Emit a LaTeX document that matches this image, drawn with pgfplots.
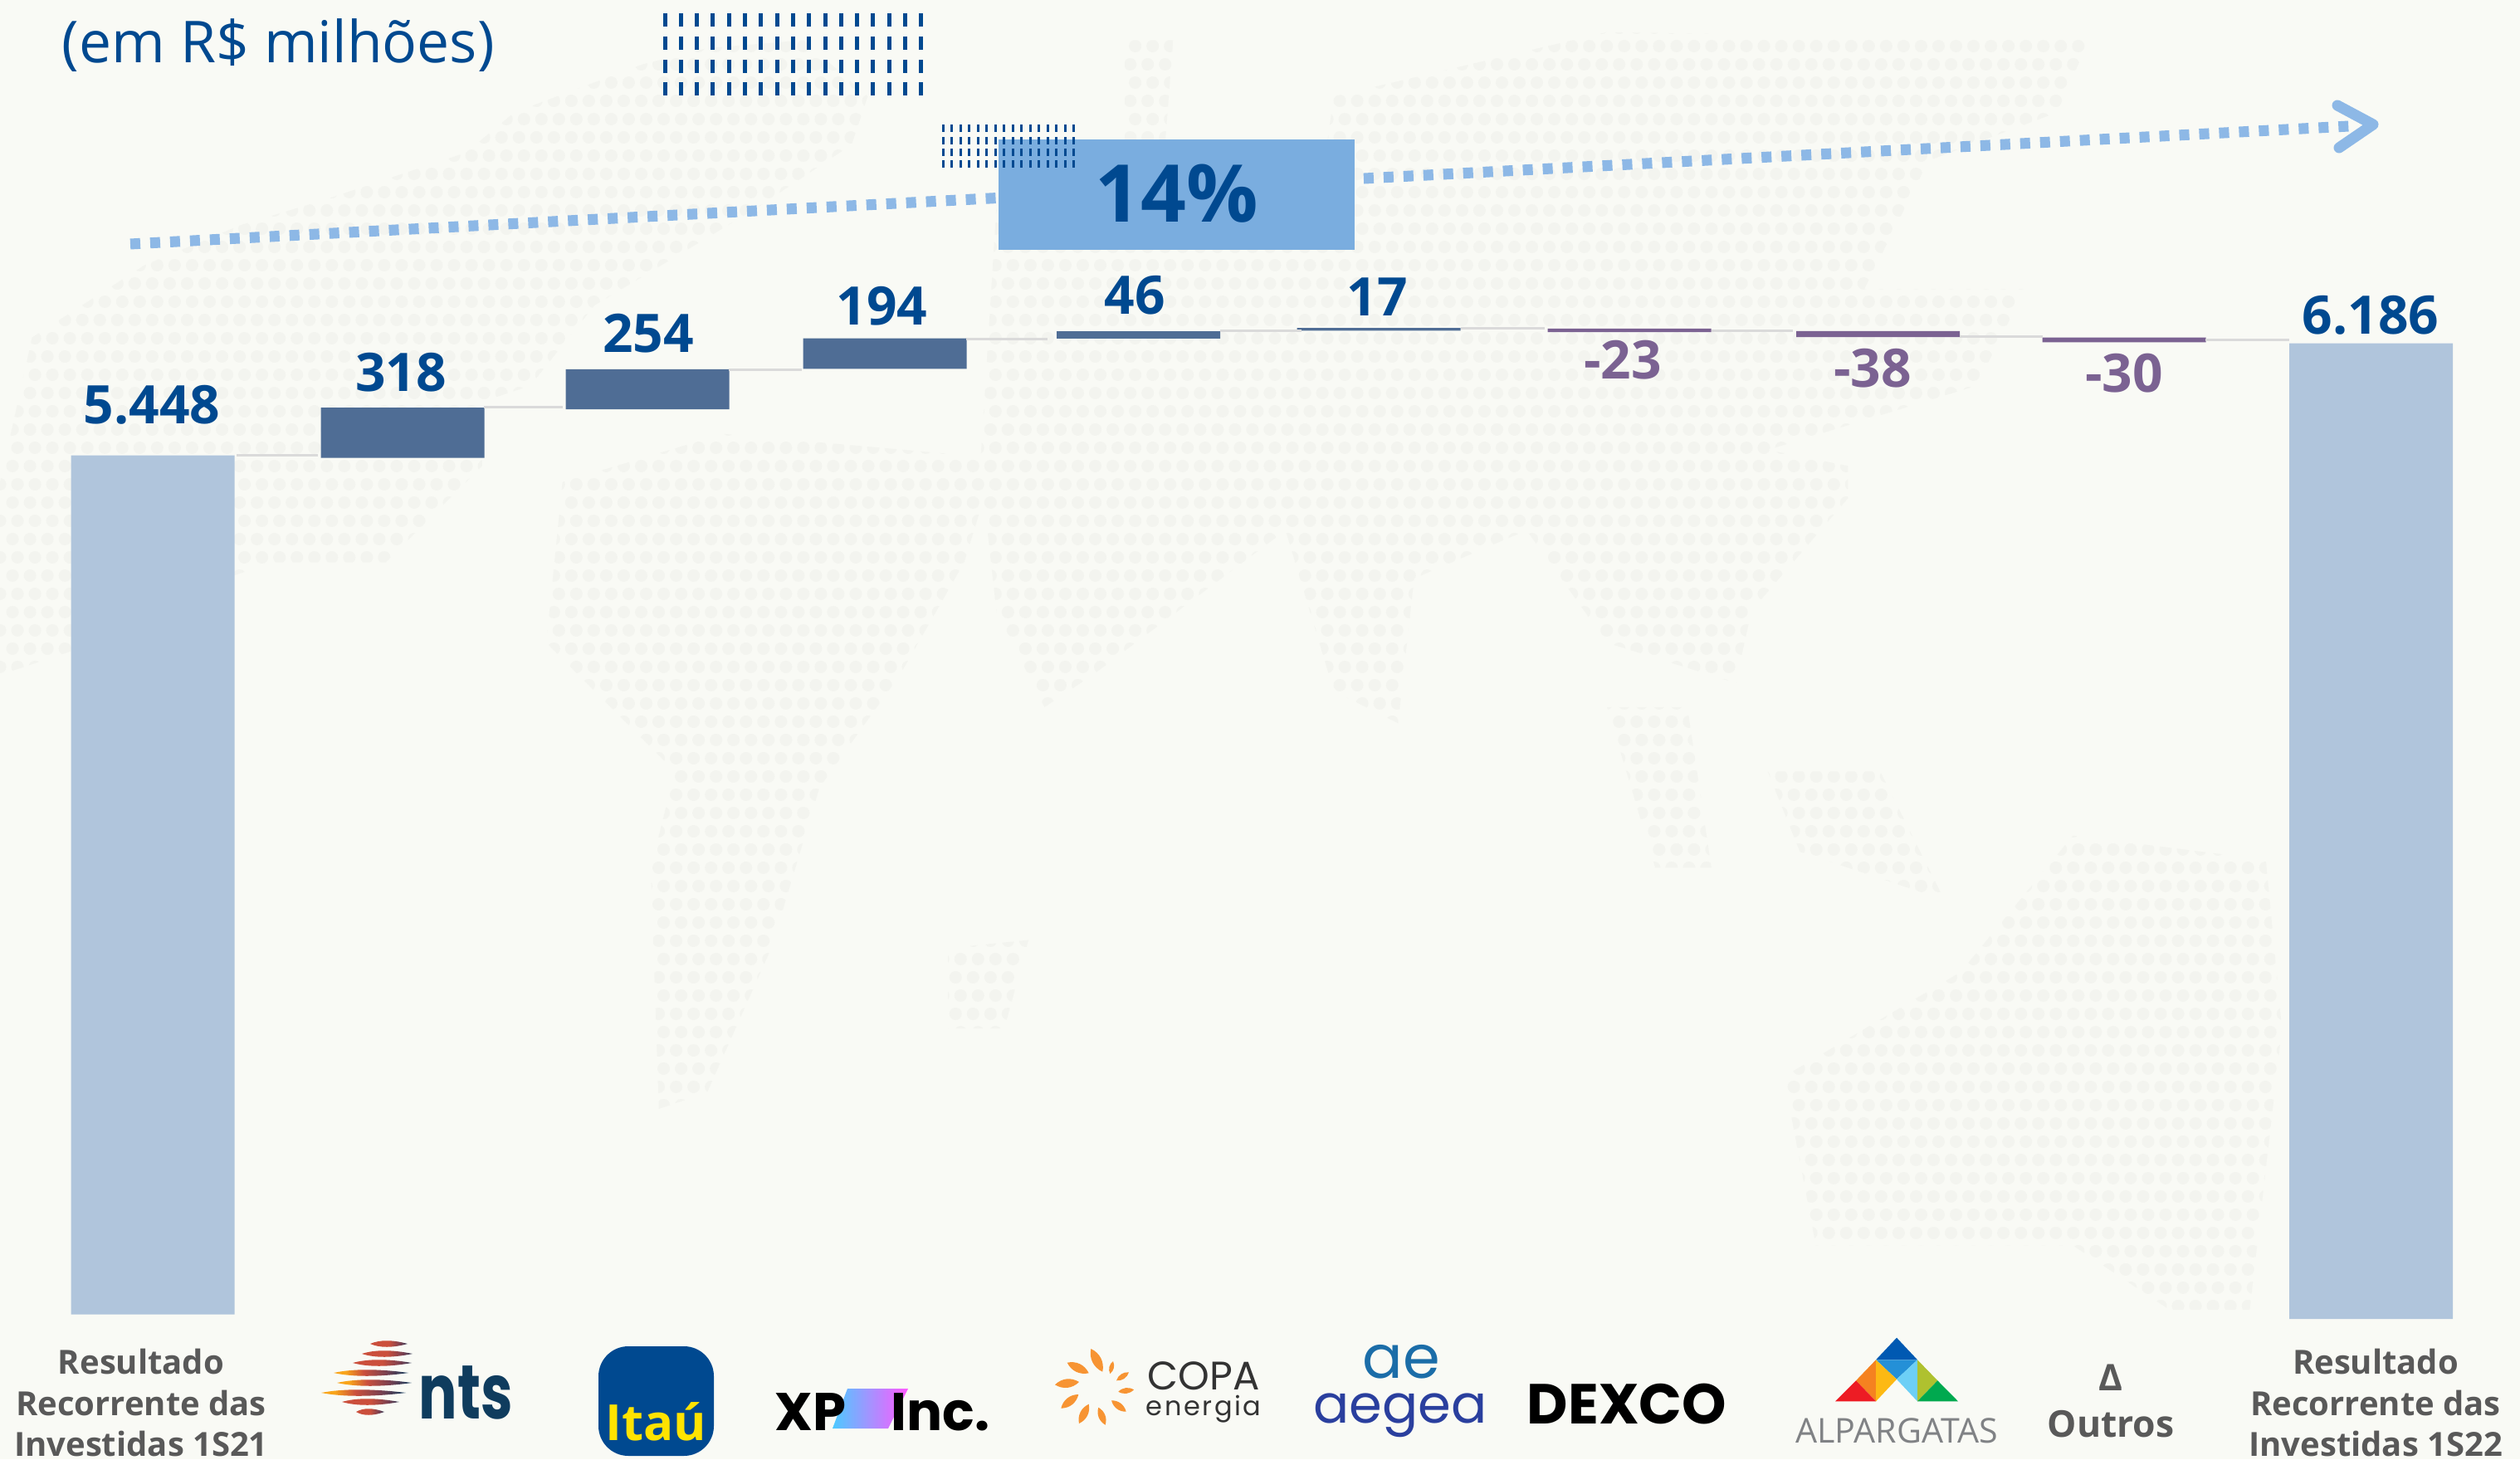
\documentclass[border=0pt]{standalone}
\usepackage{fontspec}
\usepackage{pgfplots}
\usepackage{pgfplotstable}
\pgfplotsset{compat=1.18}
\setmainfont{Open Sans}
\newfontfamily\os{Open Sans}
\newfontfamily\pop{Poppins}
\newfontfamily\popsp[LetterSpace=8]{Poppins}
\definecolor{bg}{HTML}{F9FAF5}
\definecolor{dot}{HTML}{F3F4EF}
\definecolor{total}{HTML}{B0C5DC}
\definecolor{up}{HTML}{4F6D95}
\definecolor{down}{HTML}{7B6292}
\definecolor{navy}{HTML}{004990}
\definecolor{sky}{HTML}{7AADDF}
\definecolor{arrowc}{HTML}{8DB8E6}
\definecolor{conn}{HTML}{DADADA}
\definecolor{greytxt}{HTML}{595959}
\definecolor{ntsblue}{HTML}{0F3C5E}
\definecolor{petal}{HTML}{F79433}
\definecolor{aeg}{HTML}{2A3F9E}
\definecolor{fishred}{HTML}{CB4F3C}
\definecolor{fishmid}{HTML}{7A4050}
\definecolor{fishor}{HTML}{F9A51A}
\pgfdeclarehorizontalshading{fishA}{100bp}{color(0bp)=(fishred);color(50bp)=(fishred);color(65bp)=(fishmid);color(80bp)=(ntsblue);color(100bp)=(ntsblue)}
\pgfdeclarehorizontalshading{fishB}{100bp}{color(0bp)=(fishor);color(33bp)=(fishor);color(45bp)=(fishred);color(60bp)=(fishmid);color(75bp)=(ntsblue);color(100bp)=(ntsblue)}
\pgfdeclarehorizontalshading{xpgrad}{100bp}{color(0bp)=(cyan!70!blue!70!white);color(25bp)=(cyan!70!blue!70!white);color(75bp)=(magenta!65!white);color(100bp)=(magenta!65!white)}
% one line of a tick label: #1 = distance of the baseline below the axis
\newcommand\tl[2]{\makebox[0pt][c]{\raisebox{-#1}[0pt][0pt]{#2}}}
\newcommand\lblfont{\os\bfseries\fontsize{10}{12}\selectfont\color{greytxt}}
\newcommand\fish[5]{\shade[shading=#5,draw=none] (#1,#3) .. controls ({#1+0.25*(#2-#1)},{#3-#4}) and ({#1+0.6*(#2-#1)},{#3-#4}) .. (#2,#3) .. controls ({#1+0.6*(#2-#1)},{#3+#4}) and ({#1+0.25*(#2-#1)},{#3+#4}) .. cycle;}
\newcommand\petal[4]{\fill[petal] (#1,#2) to[bend left=38] (#3,#4) to[bend left=38] cycle;}
\pgfplotstableread{
x      base  total up  down
184    28    5448  0   0
485    5460  0     318 0
780    5768  0     254 0
1066   6024  0     194 0
1371.5 6216  0     46  0
1661   6266  0     17  0
1963   6257  0     0   23
2262.5 6226  0     0   38
2559   6193  0     0   30
2856.5 0     6186  0   0
}\bars
\pgfplotstableread{
x      y    label
183    5795 5.448
483    6003 318
781    6247 254
1062.5 6420 194
1367   6489 46
1659   6479 17
2856   6363 6.186
}\uplabels
\pgfplotstableread{
x      y    label
1955   6079 -23
2256   6026 -38
2559   5995 -30
}\downlabels
\pgfplotsset{px axis/.style={
  at={(0pt,42.25pt)},anchor=south west,
  scale only axis,width=759pt,height=397.25pt,
  xmin=0,xmax=3036,ymin=0,ymax=8363.16,
  clip=false}}
\tikzset{px/.style={x=.25pt,y=-.25pt,yshift=439.5pt}}
\begin{document}
\begin{tikzpicture}
\useasboundingbox (0,0) rectangle (759pt,439.5pt);
\clip (0,0) rectangle (759pt,439.5pt);
\fill[bg] (0,0) rectangle (759pt,439.5pt);
% faint dotted world map
\begin{scope}[x=.484pt,y=-.484pt,yshift=439.5pt]
\clip
 (0,300)--(20,210)--(90,165)--(150,140)--(200,125)--(290,95)--(320,70)--(400,40)--(440,30)--(500,25)--(540,60)--(530,90)--(470,130)--(420,160)--(370,190)--(330,240)--(300,250)--(300,290)--(240,350)--(170,350)--(110,370)--(60,400)--(0,420)--cycle
 (350,300)--(450,270)--(620,285)--(600,350)--(560,420)--(510,490)--(480,590)--(440,680)--(410,690)--(405,540)--(420,480)--(340,400)--cycle
 (610,290)--(620,130)--(820,130)--(830,60)--(1000,20)--(1300,25)--(1280,70)--(1200,100)--(1160,180)--(1260,180)--(1230,240)--(1100,280)--(1150,290)--(1150,310)--(1090,380)--(1080,425)--(1000,400)--(950,330)--(880,360)--(870,450)--(830,430)--(800,330)--(680,420)--(650,440)--(620,380)--cycle
 (1000,440)--(1050,440)--(1065,540)--(1030,540)--cycle
 (1100,480)--(1170,480)--(1210,560)--(1120,530)--cycle
 (590,590)--(640,585)--(625,640)--(590,640)--cycle
 (1110,670)--(1220,605)--(1290,520)--(1410,535)--(1420,640)--(1400,815)--(1350,815)--(1290,775)--(1130,775)--cycle
 (700,25)--(730,25)--(725,90)--(700,90)--cycle;
\foreach \r in {0,...,80}{
  \draw[dot,line width=3.75pt,line cap=round,dash pattern=on 0.01pt off 5.25pt,dash phase={mod(\r,2)*1.5pt}]
   (0,{11.36*\r+6}) -- (1568,{11.36*\r+6});
}
\end{scope}
\begin{scope}[px]
% trend arrow
\draw[arrowc,line width=3.25pt,dash pattern=on 3pt off 3pt] (157,294)--(2830,152);
\draw[arrowc,line width=3.25pt,line cap=round,line join=round] (2816,127)--(2859,150)--(2818,178);
% 14% box
\fill[sky] (1203,168) rectangle (1632,301);
\node[text=navy,font=\os\bfseries\fontsize{24}{26}\selectfont] at (1418,233) {14\%};
% upper stick block
\foreach \yy in {16,44,72,99.5}{
  \foreach \i in {0,...,16}{ \fill[navy] ({801+19.3*\i-2.5},\yy) rectangle ({801+19.3*\i+2.5},{\yy+16}); }
}
% lower stick block
\foreach \yy in {150,165,179,193}{
  \foreach \i in {0,...,15}{ \fill[navy] ({1136+10.5*\i-1.5},\yy) rectangle ({1136+10.5*\i+1.5},{\yy+9}); }
}
\node[anchor=base west,inner sep=0pt,text=navy,font=\os\fontsize{17.4}{20}\selectfont] at (74,76) {(em R\$ milhões)};
% nts symbol
\fish{446}{491}{1619}{5}{fishA}
\fish{436}{497}{1631}{5}{fishA}
\fish{425}{496}{1642}{5}{fishA}
\fish{402}{492}{1654}{5}{fishB}
\fish{406}{496}{1666}{5}{fishB}
\fish{387}{489}{1678}{5}{fishB}
\fish{412}{481}{1689}{5}{fishA}
\fish{429}{463}{1701}{5}{fishA}
% Itau box
\fill[navy,rounded corners=9pt] (721,1622) rectangle (860,1754);
% XP gradient
\shade[shading=xpgrad] (1021,1673)--(1094,1673)--(1070,1721)--(1003,1721)--cycle;
% Copa sun
\petal{1314.3}{1625}{1328.3}{1652.7}
\petal{1285.7}{1641.7}{1311.7}{1654.3}
\petal{1271}{1668.3}{1300}{1665}
\petal{1278.3}{1696.7}{1299.3}{1680}
\petal{1300}{1715}{1311.7}{1691.7}
\petal{1331.7}{1716.7}{1323.3}{1695.7}
\petal{1356.7}{1700.7}{1339}{1687.3}
\petal{1366}{1674.3}{1347.3}{1676.7}
\petal{1360}{1653.3}{1345}{1663.3}
\petal{1341}{1640}{1337.3}{1655}
% aegea symbol
\node[anchor=base,inner sep=0pt,text=aeg!70!cyan!90!black,font=\pop\fontsize{18}{19}\selectfont] at (1688,1660) {ae};
% Alpargatas symbol
\fill[blue!50!cyan!70!black] (2285,1611.7)--(2260,1638.3)--(2310,1638.3)--cycle;
\fill[cyan!70!blue!90!white] (2260,1638.3)--(2310,1638.3)--(2285,1661.7)--cycle;
\definecolor{a1}{HTML}{F58220}\definecolor{a2}{HTML}{FDB913}\definecolor{a3}{HTML}{ED1C24}
\definecolor{a4}{HTML}{6DCFF6}\definecolor{a5}{HTML}{AFC12F}\definecolor{a6}{HTML}{00A94F}
\fill[a1] (2260,1638.3)--(2236,1663.3)--(2260,1688.3)--cycle;
\fill[a2] (2260,1638.3)--(2285,1661.7)--(2260,1688.3)--cycle;
\fill[a3] (2236,1663.3)--(2211,1688.3)--(2260,1688.3)--cycle;
\fill[a4] (2310,1638.3)--(2285,1661.7)--(2310,1688.3)--cycle;
\fill[a5] (2310,1638.3)--(2334.3,1663.3)--(2310,1688.3)--cycle;
\fill[a6] (2334.3,1663.3)--(2310,1688.3)--(2359,1688.3)--cycle;
\end{scope}
% bars
\begin{axis}[px axis,ybar stacked,bar width=49.25pt,
  axis line style={draw=none},major tick length=0pt,ytick=\empty,
  xtick={170,561,790,1063,1450,1687,1960,2285,2543,2862},
  xticklabel style={anchor=north,inner sep=0pt,outer sep=0pt,yshift=0pt},
  xticklabels={
   {\lblfont\tl{16pt}{Resultado}\tl{28.5pt}{Recorrente das}\tl{40.8pt}{Investidas 1S21}},
   {\tl{29.5pt}{\pop\bfseries\fontsize{23}{24}\selectfont\color{ntsblue}\scalebox{.75}[1]{nts}}},
   {\tl{36pt}{\os\bfseries\fontsize{15}{16}\selectfont\color[HTML]{FFE300}Itaú}},
   {\tl{33pt}{\pop\bfseries\fontsize{16}{18}\selectfont\color{black}XP\hspace{13.5pt}Inc.}},
   {\tl{20.75pt}{\pop\fontsize{12}{13}\selectfont\color[HTML]{333333}COPA}\tl{28.5pt}{\popsp\fontsize{8}{9}\selectfont\color[HTML]{333333}energia}},
   {\tl{30.75pt}{\pop\fontsize{16}{17}\selectfont\color{aeg}aegea}},
   {\tl{31pt}{\pop\bfseries\fontsize{17}{18}\selectfont\color{black}DEXCO}},
   {\tl{36.75pt}{\os\fontsize{10.3}{11}\selectfont\color[HTML]{808285}ALPARGATAS}},
   {\lblfont\tl{21pt}{\fontsize{11}{12}\selectfont Δ}\tl{35pt}{\fontsize{11.1}{12}\selectfont Outros}},
   {\lblfont\tl{16pt}{Resultado}\tl{28.5pt}{Recorrente das}\tl{40.8pt}{Investidas 1S22}}
  }]
\addplot[draw=none,fill=none] table[x=x,y=base] {\bars};
\addplot[draw=none,fill=total] table[x=x,y=total] {\bars};
\addplot[draw=none,fill=up] table[x=x,y=up] {\bars};
\addplot[draw=none,fill=down] table[x=x,y=down] {\bars};
\end{axis}
% connectors and value labels
\begin{axis}[px axis,hide axis]
\addplot[conn,line width=.75pt] coordinates {(285,5474) (383,5474)};
\addplot[conn,line width=.75pt] coordinates {(583,5781) (678,5781)};
\addplot[conn,line width=.75pt] coordinates {(878,6016) (966,6016)};
\addplot[conn,line width=.75pt] coordinates {(1164,6212) (1262,6212)};
\addplot[conn,line width=.75pt] coordinates {(1470,6267) (1568,6267)};
\addplot[conn,line width=.75pt] coordinates {(1760,6281) (1861,6281)};
\addplot[conn,line width=.75pt] coordinates {(2062,6267) (2160,6267)};
\addplot[conn,line width=.75pt] coordinates {(2361,6228) (2461,6228)};
\addplot[conn,line width=.75pt] coordinates {(2657,6207) (2758,6207)};
\addplot[only marks,mark=none,point meta=explicit symbolic,
  nodes near coords,nodes near coords align={center},
  nodes near coords style={anchor=center,inner sep=0pt,text=navy,font=\os\bfseries\fontsize{16}{18}\selectfont}]
  table[x=x,y=y,meta=label] {\uplabels};
\addplot[only marks,mark=none,point meta=explicit symbolic,
  nodes near coords,nodes near coords align={center},
  nodes near coords style={anchor=center,inner sep=0pt,text=down,font=\os\bfseries\fontsize{16}{18}\selectfont}]
  table[x=x,y=y,meta=label] {\downlabels};
\end{axis}
\end{tikzpicture}
\end{document}
